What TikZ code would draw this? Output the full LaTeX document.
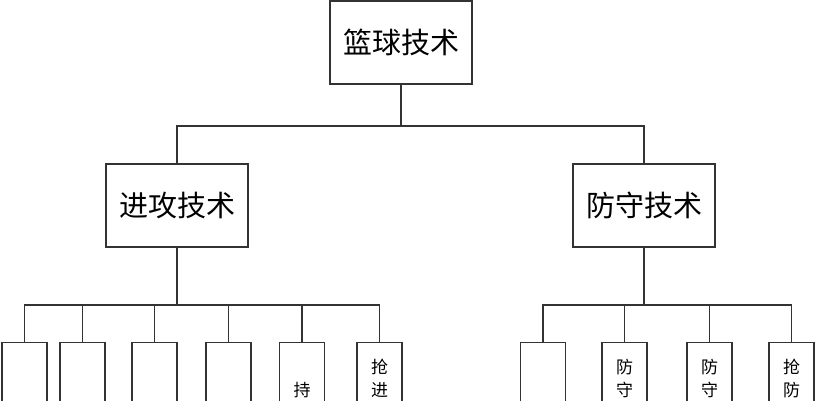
\documentclass[tikz,border=0pt]{standalone}
\usepackage{fontspec}
\newfontfamily\cjk{Noto Sans CJK SC}
\usetikzlibrary{positioning,calc}
\tikzset{
  treebox/.style={draw=black!80, line width=1.3pt, fill=white, inner sep=0pt},
  treeline/.style={draw=black!80, line width=1.3pt},
}

\begin{document}
\begin{tikzpicture}[
  x=1pt, y=-1pt,
  font=\cjk,
  bigbox/.style={treebox, minimum width=142pt, minimum height=83pt, font=\cjk\fontsize{29}{31}\selectfont},
  leafbox/.style={treebox, minimum width=45pt, minimum height=100pt, anchor=north},
  leaftext/.style={align=center, inner sep=0pt, font=\cjk\fontsize{17}{23}\selectfont},
]
  \clip (0,0) rectangle (815,400);

  \node[bigbox] (root) at (401,42.5) {篮球技术};
  \node[bigbox] (atk) at (177,205.5) {进攻技术};
  \node[bigbox] (def) at (644,205.5) {防守技术};

  % attack leaves
  \node[leafbox] (a1) at (24.5,342) {};
  \node[leafbox] (a2) at (82.5,342) {};
  \node[leafbox] (a3) at (154.5,342) {};
  \node[leafbox] (a4) at (228.5,342) {};
  \node[leafbox] (a5) at (302,342) {};
  \node[leafbox] (a6) at (379.5,342) {};
  % defence leaves
  \node[leafbox] (d1) at (543,342) {};
  \node[leafbox] (d2) at (624.5,342) {};
  \node[leafbox] (d3) at (709.5,342) {};
  \node[leafbox] (d4) at (791.5,342) {};

  \node[leaftext] (a5t) at (302,390) {持};
  \node[leaftext] (a6t) at (379.5,378.5) {抢\\进};
  \node[leaftext] (d2t) at (624.5,378.5) {防\\守};
  \node[leaftext] (d3t) at (709.5,378.5) {防\\守};
  \node[leaftext] (d4t) at (791.5,378.5) {抢\\防};

  \coordinate (hub) at (401,126);
  \coordinate (hubA) at (177,305);
  \coordinate (hubD) at (644,305);

  \draw[treeline] (root) -- (hub);
  \draw[treeline] (atk.north) |- (hub) -| (def.north);

  \draw[treeline] (atk) -- (hubA);
  \draw[treeline] (a1.north) |- (hubA) -| (a6.north);
  \draw[treeline] (a2.north) -- (a2.north |- hubA);
  \draw[treeline] (a3.north) -- (a3.north |- hubA);
  \draw[treeline] (a4.north) -- (a4.north |- hubA);
  \draw[treeline] (a5.north) -- (a5.north |- hubA);

  \draw[treeline] (def) -- (hubD);
  \draw[treeline] (d1.north) |- (hubD) -| (d4.north);
  \draw[treeline] (d2.north) -- (d2.north |- hubD);
  \draw[treeline] (d3.north) -- (d3.north |- hubD);
\end{tikzpicture}
\end{document}
